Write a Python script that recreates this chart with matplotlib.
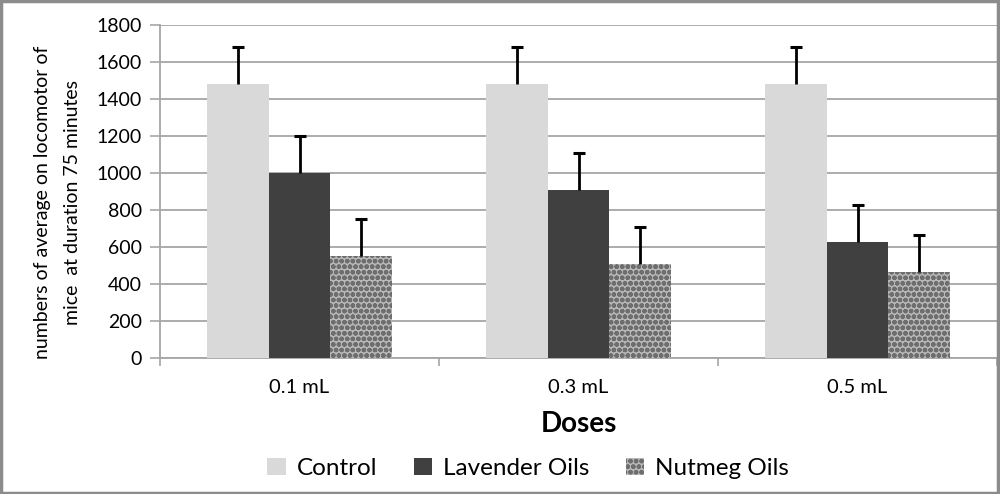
import numpy as np
import matplotlib
matplotlib.use('Agg')
import matplotlib.pyplot as plt
from matplotlib.patches import Patch, Rectangle

doses = ['0.1 mL', '0.3 mL', '0.5 mL']
series_names = ['Control', 'Lavender Oils', 'Nutmeg Oils']
control = [1480, 1480, 1480]
lavender = [1000, 910, 625]
nutmeg = [550, 510, 465]
errors = [200, 200, 200]
ylabel_lines = ['numbers of average on locomotor of', 'mice  at duration 75 minutes']

plt.rcParams['font.family'] = ['Lato', 'DejaVu Sans']
plt.rcParams['hatch.linewidth'] = 1.6

fig = plt.figure(figsize=(10, 4.94), dpi=100)
ax = fig.add_axes([0.16, 0.2753, 0.837, 0.6741])

x = np.arange(len(doses))
width = 0.222
colors = ['#d9d9d9', '#404040', '#b8b8b8']
series = [control, lavender, nutmeg]

for i, (vals, col) in enumerate(zip(series, colors)):
    pos = x + (i - 1) * width
    if i == 2:
        ax.bar(pos, vals, width, color=col, edgecolor='#6e6e6e', hatch='ooo', linewidth=0, zorder=3)
    else:
        ax.bar(pos, vals, width, color=col, linewidth=0, zorder=3)
    # upper error bar only, with a single cap
    tops = np.array(vals) + np.array(errors)
    ax.vlines(pos, vals, tops, color='black', linewidth=2, zorder=4)
    ax.plot(pos, tops, linestyle='none', marker='_', markersize=8, markeredgewidth=2.2,
            color='black', zorder=4)

ax.set_xlim(-0.5, 2.5)
ax.set_ylim(0, 1800)
ax.set_yticks(range(0, 1801, 200))
ax.yaxis.grid(True, color='#a6a6a6', linewidth=1.3, zorder=0)
ax.set_axisbelow(True)

ax.set_xticks(x)
ax.set_xticklabels(doses, fontsize=14.5)
ax.set_xticks([-0.5, 0.5, 1.5, 2.5], minor=True)
ax.tick_params(axis='x', which='major', length=0, pad=15)
ax.tick_params(axis='x', which='minor', length=6, color='#a6a6a6', width=1.2)
ax.tick_params(axis='y', length=7, color='#a6a6a6', width=1.2, labelsize=14, pad=6)

for s in ['top', 'right']:
    ax.spines[s].set_visible(False)
for s in ['left', 'bottom']:
    ax.spines[s].set_color('#a6a6a6')
    ax.spines[s].set_linewidth(1.3)

ax.set_xlabel('Doses', fontsize=20, fontweight='bold', labelpad=11)
# two-line y label, each line centred on the plot
for xf, line in zip([0.043, 0.072], ylabel_lines):
    fig.text(xf, 0.591, line, rotation=90, ha='center', va='center', fontsize=14)

handles = [Patch(facecolor=colors[0]), Patch(facecolor=colors[1]),
           Patch(facecolor=colors[2], edgecolor='#6e6e6e', hatch='ooo', linewidth=0)]
fig.legend(handles, series_names, loc='center', bbox_to_anchor=(0.528, 0.052), ncol=3,
           frameon=False, fontsize=17.5, handlelength=0.75, handleheight=0.75,
           handletextpad=0.45, columnspacing=1.5)

fig.patches.append(Rectangle((0.001, 0.002), 0.997, 0.995, transform=fig.transFigure,
                             fill=False, edgecolor='#8c8c8c', linewidth=2.5))

fig.savefig('out.png', dpi=100)
